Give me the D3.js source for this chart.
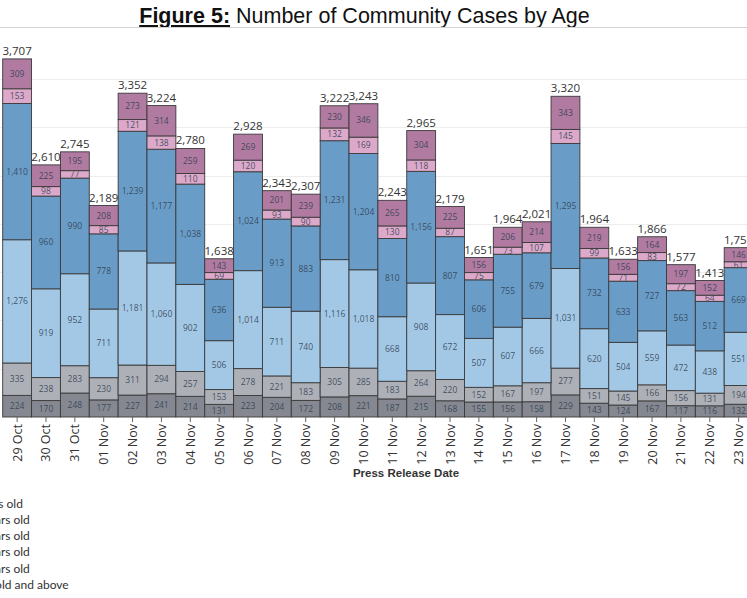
<!DOCTYPE html>
<html>
<head>
<meta charset="utf-8">
<script src="https://cdn.jsdelivr.net/npm/d3@7"></script>
<style>
  html, body { margin: 0; padding: 0; background: #fff; overflow: hidden; }
  #chart { width: 747px; height: 598px; }
  .tick text { font-family: "Open Sans", sans-serif; }
</style>
</head>
<body>
<div id="chart"></div>
<script>
// press release dates (x axis)
var dates = ["29 Oct","30 Oct","31 Oct","01 Nov","02 Nov","03 Nov","04 Nov","05 Nov","06 Nov",
  "07 Nov","08 Nov","09 Nov","10 Nov","11 Nov","12 Nov","13 Nov","14 Nov","15 Nov","16 Nov",
  "17 Nov","18 Nov","19 Nov","20 Nov","21 Nov","22 Nov","23 Nov"];

// age groups, top of legend first
var ageGroups = ["0-11 years old","12-19 years old","20-39 years old","40-59 years old",
  "60-69 years old","70 years old and above"];

var age0_11 = [309,225,195,208,273,314,259,143,269,201,239,230,346,265,304,225,156,206,214,343,219,156,164,197,152,146];
var age12_19 = [153,98,77,85,121,138,110,69,120,93,90,132,169,130,118,87,75,73,107,145,99,71,83,72,64,61];
var age20_39 = [1410,960,990,778,1239,1177,1038,636,1024,913,883,1231,1204,810,1156,807,606,755,679,1295,732,633,727,563,512,669];
var age40_59 = [1276,919,952,711,1181,1060,902,506,1014,711,740,1116,1018,668,908,672,507,607,666,1031,620,504,559,472,438,551];
var age60_69 = [335,238,283,230,311,294,257,153,278,221,183,305,285,183,264,220,152,167,197,277,151,145,166,156,131,194];
var age70up = [224,170,248,177,227,241,214,131,223,204,172,208,221,187,215,168,155,156,158,229,143,124,167,117,116,132];

var gridTicks = [0,500,1000,1500,2000,2500,3000,3500,4000];

var chart = {
  w: 747, h: 598,
  left: 2.7, step: 28.86,
  base: 417, top: 30.6,
  svg: null
};

var colors = {
  "0-11 years old": "#b07aa1",
  "12-19 years old": "#dca9ca",
  "20-39 years old": "#6a9cc8",
  "40-59 years old": "#a3c8e6",
  "60-69 years old": "#aeb0b8",
  "70 years old and above": "#858891"
};

var series = {
  "0-11 years old": age0_11,
  "12-19 years old": age12_19,
  "20-39 years old": age20_39,
  "40-59 years old": age40_59,
  "60-69 years old": age60_69,
  "70 years old and above": age70up
};

// rows for d3.stack
var rows = dates.map(function(d, i) {
  var r = {date: d};
  ageGroups.forEach(function(g) { r[g] = series[g][i]; });
  return r;
});

function initChart() {
  chart.svg = d3.select('#chart').append('svg')
    .attr('width', chart.w)
    .attr('height', chart.h)
    .style('font-family', '"Open Sans", sans-serif');
}

function drawChart() {
  var svg = chart.svg;

  var x = d3.scaleBand()
    .domain(dates)
    .range([chart.left, chart.left + chart.step * dates.length])
    .paddingInner(0).paddingOuter(0);

  var y = d3.scaleLinear()
    .domain([0, 4000])
    .range([chart.base, chart.top]);

  // bottom group first in the stack
  var stack = d3.stack().keys(ageGroups.slice().reverse());
  var sData = stack(rows);

  // title
  var title = svg.append('text')
    .attr('x', 364.5).attr('y', 23)
    .attr('text-anchor', 'middle')
    .style('font-family', '"Liberation Sans", Arial, sans-serif')
    .style('font-size', '21.5px')
    .attr('fill', '#111');
  title.append('tspan').attr('font-weight', 'bold')
    .attr('text-decoration', 'underline').text('Figure 5:');
  title.append('tspan').text(' Number of Community Cases by Age');

  svg.append('line')
    .attr('x1', 0).attr('x2', chart.w)
    .attr('y1', 27.5).attr('y2', 27.5)
    .attr('stroke', '#d4d4d4').attr('stroke-width', 1);

  // gridlines
  svg.append('g')
    .selectAll('line')
    .data(gridTicks.filter(function(t) { return t > 0 && t < 4000; }))
    .enter().append('line')
      .attr('x1', 0).attr('x2', chart.w)
      .attr('y1', function(d) { return Math.round(y(d)) + 0.5; })
      .attr('y2', function(d) { return Math.round(y(d)) + 0.5; })
      .attr('stroke', '#ededed');

  var defs = svg.append('defs');

  var layers = svg.append('g')
    .selectAll('g')
    .data(sData)
    .enter().append('g')
      .attr('fill', function(d) { return colors[d.key]; });

  layers.selectAll('rect')
    .data(function(d) { return d.map(function(p) { return {key: d.key, p: p}; }); })
    .enter().append('rect')
      .attr('x', function(d) { return x(d.p.data.date); })
      .attr('y', function(d) { return y(d.p[1]); })
      .attr('width', x.bandwidth())
      .attr('height', function(d) { return y(d.p[0]) - y(d.p[1]); })
      .attr('stroke', '#3a3a3a')
      .attr('stroke-width', 0.9);

  // segment value labels, clipped to their segment
  var labelData = [];
  sData.forEach(function(layer, li) {
    layer.forEach(function(p, i) {
      labelData.push({id: 'c' + li + '_' + i, key: layer.key, p: p});
    });
  });

  defs.selectAll('clipPath')
    .data(labelData)
    .enter().append('clipPath')
      .attr('id', function(d) { return d.id; })
    .append('rect')
      .attr('x', function(d) { return x(d.p.data.date); })
      .attr('y', function(d) { return y(d.p[1]) + 0.5; })
      .attr('width', x.bandwidth())
      .attr('height', function(d) { return Math.max(0, y(d.p[0]) - y(d.p[1]) - 1); });

  svg.append('g')
    .selectAll('text')
    .data(labelData)
    .enter().append('text')
      .attr('clip-path', function(d) { return 'url(#' + d.id + ')'; })
      .attr('x', function(d) { return x(d.p.data.date) + x.bandwidth() / 2; })
      .attr('y', function(d) { return (y(d.p[0]) + y(d.p[1])) / 2; })
      .attr('dy', '0.35em')
      .attr('text-anchor', 'middle')
      .style('font-size', '8.5px')
      .attr('fill', '#2e3d4e')
      .attr('fill-opacity', 0.85)
      .text(function(d) { return d3.format(',')(d.p[1] - d.p[0]); });

  // totals above bars
  var topLayer = sData[sData.length - 1];
  svg.append('g')
    .selectAll('text')
    .data(topLayer)
    .enter().append('text')
      .attr('x', function(d) { return x(d.data.date) + x.bandwidth() / 2; })
      .attr('y', function(d) { return y(d[1]) - 4; })
      .attr('text-anchor', 'middle')
      .style('font-size', '11.5px')
      .attr('fill', '#333')
      .text(function(d) { return d3.format(',')(d[1]); });

  // x axis
  var xAxis = d3.axisBottom(x).tickSize(5).tickSizeOuter(0).tickPadding(3);
  svg.append('g')
      .attr('class', 'axis x')
      .attr('transform', 'translate(0,' + chart.base + ')')
    .call(xAxis)
    .call(function(g) { g.select('.domain').remove(); })
    .call(function(g) {
      g.selectAll('.tick line').attr('stroke', '#666');
      g.selectAll('.tick text')
        .attr('transform', 'rotate(-90)')
        .attr('x', -7).attr('y', 0).attr('dy', '0.36em')
        .attr('text-anchor', 'end')
        .style('font-size', '12.5px')
        .attr('fill', '#333');
    });

  svg.append('text')
    .attr('x', 406).attr('y', 477)
    .attr('text-anchor', 'middle')
    .style('font-family', '"Liberation Sans", Arial, sans-serif')
    .style('font-size', '11.5px')
    .attr('font-weight', 'bold')
    .attr('fill', '#333')
    .text('Press Release Date');

  // legend (mostly outside the visible area on the left)
  var legend = svg.append('g')
    .selectAll('g')
    .data(ageGroups)
    .enter().append('g')
      .attr('transform', function(d, i) { return 'translate(-52.5,' + (503.3 + i * 16.3) + ')'; });

  legend.append('rect')
    .attr('x', -16).attr('y', -5).attr('width', 10).attr('height', 10)
    .attr('fill', function(d) { return colors[d]; });

  legend.append('text')
    .attr('x', 0).attr('dy', '0.35em')
    .style('font-family', 'Lato, sans-serif')
    .style('font-size', '12px')
    .attr('fill', '#333')
    .text(function(d) { return d; });
}

initChart();
drawChart();
</script>
</body>
</html>
